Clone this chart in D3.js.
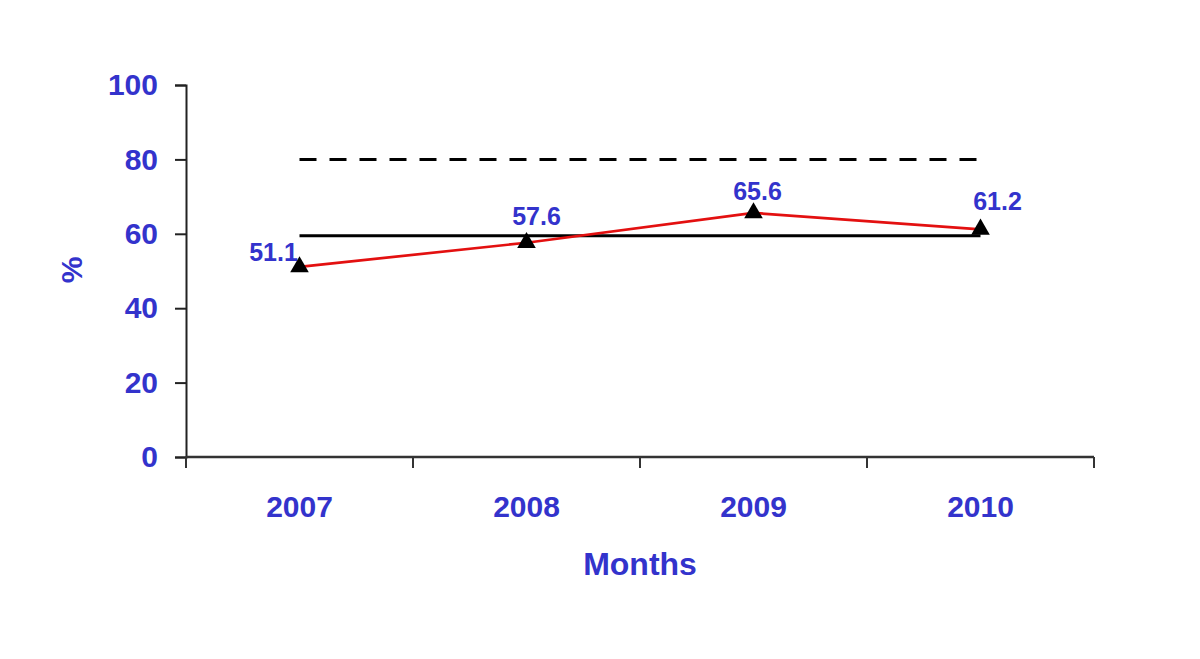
<!DOCTYPE html>
<html>
<head>
<meta charset="utf-8">
<script src="https://cdn.jsdelivr.net/npm/d3@7"></script>
<style>
  body { margin: 0; background: #fff; }
  text { font-family: Arial, "Liberation Sans", sans-serif; font-weight: bold; fill: #3333cc; }
</style>
</head>
<body>
<div id="chart"></div>
<script>
// Data
const years = ["2007", "2008", "2009", "2010"];
const rates = [51.1, 57.6, 65.6, 61.2];
const meanLine = 59.5;     // solid black line
const targetLine = 80;     // dashed black line
const yTicks = [0, 20, 40, 60, 80, 100];

// label offsets (dx, dy) relative to each point
const labelOffsets = [[-26, -6], [10, -18], [4, -13], [17, -19]];

const width = 1200, height = 659;
const margin = { top: 85, right: 106, bottom: 202, left: 186 };
const innerW = width - margin.left - margin.right;
const innerH = height - margin.top - margin.bottom;

const svg = d3.select("#chart")
    .append("svg")
    .attr("width", width)
    .attr("height", height);

const g = svg.append("g")
    .attr("transform", `translate(${margin.left},${margin.top})`);

// Scales
const x = d3.scaleBand().domain(years).range([0, innerW]);
const y = d3.scaleLinear().domain([0, 100]).range([innerH, 0]);
const cx = d => x(d) + x.bandwidth() / 2;

// Y axis
const yAxis = g.append("g")
    .call(d3.axisLeft(y).tickValues(yTicks).tickSize(11).tickPadding(17));
yAxis.select(".domain").attr("stroke", "#222").attr("stroke-width", 2);
yAxis.selectAll(".tick line").attr("stroke", "#222").attr("stroke-width", 2);
yAxis.selectAll(".tick text")
    .attr("font-size", "30px")
    .attr("font-family", "Arial, 'Liberation Sans', sans-serif")
    .attr("font-weight", "bold")
    .attr("fill", "#3333cc");

// X axis (ticks at category boundaries)
const xAxisG = g.append("g").attr("transform", `translate(0,${innerH})`);
xAxisG.append("line")
    .attr("x1", 0).attr("x2", innerW)
    .attr("stroke", "#333").attr("stroke-width", 2.5);
const bounds = years.map(d => x(d)).concat([innerW]);
xAxisG.selectAll(".xtick")
    .data(bounds)
    .enter().append("line")
    .attr("x1", d => d).attr("x2", d => d)
    .attr("y1", 0).attr("y2", 11)
    .attr("stroke", "#333").attr("stroke-width", 2);
xAxisG.selectAll(".xlabel")
    .data(years)
    .enter().append("text")
    .attr("x", d => cx(d))
    .attr("y", 60)
    .attr("text-anchor", "middle")
    .attr("font-size", "30px")
    .text(d => d);

// Reference lines
g.append("line")
    .attr("x1", cx(years[0])).attr("x2", cx(years[years.length - 1]))
    .attr("y1", y(targetLine)).attr("y2", y(targetLine))
    .attr("stroke", "#000").attr("stroke-width", 3)
    .attr("stroke-dasharray", "17,13");

g.append("line")
    .attr("x1", cx(years[0])).attr("x2", cx(years[years.length - 1]))
    .attr("y1", y(meanLine)).attr("y2", y(meanLine))
    .attr("stroke", "#000").attr("stroke-width", 3);

// Data line
const line = d3.line()
    .x((d, i) => cx(years[i]))
    .y(d => y(d));

g.append("path")
    .datum(rates)
    .attr("fill", "none")
    .attr("stroke", "#e31010")
    .attr("stroke-width", 2.7)
    .attr("d", line);

// Triangle markers
g.selectAll(".marker")
    .data(rates)
    .enter().append("path")
    .attr("class", "marker")
    .attr("transform", (d, i) => `translate(${cx(years[i])},${y(d)})`)
    .attr("d", d3.symbol().type(d3.symbolTriangle).size(150))
    .attr("fill", "#000");

// Data labels
g.selectAll(".dlabel")
    .data(rates)
    .enter().append("text")
    .attr("x", (d, i) => cx(years[i]) + labelOffsets[i][0])
    .attr("y", (d, i) => y(d) + labelOffsets[i][1])
    .attr("text-anchor", "middle")
    .attr("font-size", "25px")
    .text(d => d.toFixed(1));

// Axis titles
svg.append("text")
    .attr("x", margin.left + innerW / 2)
    .attr("y", 575)
    .attr("text-anchor", "middle")
    .attr("font-size", "32px")
    .text("Months");

svg.append("text")
    .attr("transform", "translate(82,270) rotate(-90)")
    .attr("text-anchor", "middle")
    .attr("font-size", "30px")
    .text("%");
</script>
</body>
</html>
